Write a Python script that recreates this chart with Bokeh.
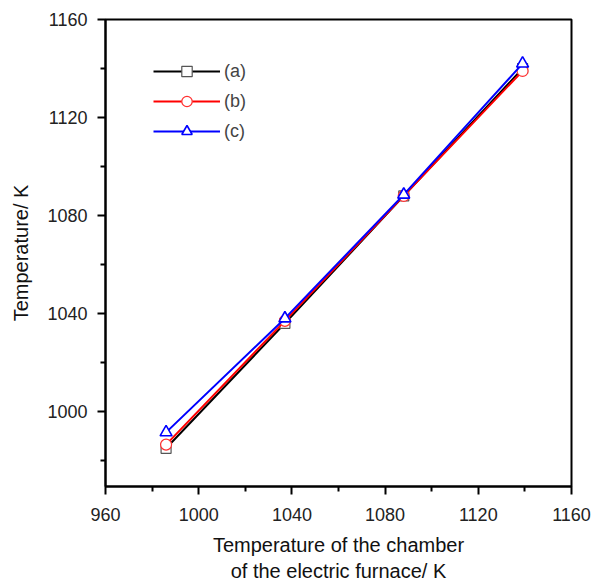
from bokeh.plotting import figure
from bokeh.models import Range1d, Legend, LegendItem, FixedTicker
from bokeh.embed import file_html
from bokeh.resources import INLINE

x_vals = [986, 1037, 1088, 1139]
series_a = [985, 1036, 1088, 1140]
series_b = [986.5, 1037, 1088, 1139]
series_c = [991.5, 1038, 1088.5, 1142]
labels = ["(a)", "(b)", "(c)"]
x_ticks = [960, 1000, 1040, 1080, 1120, 1160]
y_ticks = [1000, 1040, 1080, 1120, 1160]
minor = [980, 1020, 1060, 1100, 1140]

FONT = "Liberation Sans"

p = figure(width=592, height=585, output_backend="svg", toolbar_location=None,
           x_range=Range1d(960, 1160), y_range=Range1d(969.4, 1160),
           min_border_left=105, min_border_right=21, min_border_top=19, min_border_bottom=99)
p.grid.visible = False
p.outline_line_color = "black"
p.outline_line_width = 2

for ax in (p.xaxis[0], p.yaxis[0]):
    ax.axis_line_width = 2
    ax.major_tick_line_width = 2
    ax.minor_tick_line_width = 2
    ax.major_tick_out = 8
    ax.major_tick_in = 0
    ax.minor_tick_out = 5
    ax.minor_tick_in = 0
    ax.major_label_text_font = FONT
    ax.major_label_text_font_size = "18px"
    ax.major_label_text_color = "#222222"
    ax.axis_label_text_font = FONT
    ax.axis_label_text_font_size = "20px"
    ax.axis_label_text_font_style = "normal"
    ax.axis_label_text_color = "#111111"

p.xaxis.ticker = FixedTicker(ticks=x_ticks, minor_ticks=minor)
p.yaxis.ticker = FixedTicker(ticks=y_ticks, minor_ticks=minor)
p.xaxis.major_label_standoff = 13
p.yaxis.major_label_standoff = 10
p.xaxis.axis_label = "Temperature of the chamber\nof the electric furnace/ K"
p.xaxis.axis_label_standoff = 10
p.yaxis.axis_label = "Temperature/ K"
p.yaxis.axis_label_standoff = 12

la = p.line(x_vals, series_a, line_color="black", line_width=2)
sa = p.scatter(x_vals, series_a, marker="square", size=10, fill_color="white",
               line_color="#555555", line_width=1.2)
lb = p.line(x_vals, series_b, line_color="#ff0000", line_width=2)
sb = p.scatter(x_vals, series_b, marker="circle", size=11, fill_color="white",
               line_color="#ff3030", line_width=1.2)
lc = p.line(x_vals, series_c, line_color="#0000ff", line_width=2)
sc = p.scatter(x_vals, series_c, marker="triangle", size=12, fill_color="white",
               line_color="#0000ff", line_width=1.6)

legend = Legend(items=[LegendItem(label=labels[0], renderers=[la, sa]),
                       LegendItem(label=labels[1], renderers=[lb, sb]),
                       LegendItem(label=labels[2], renderers=[lc, sc])],
                location=(48, 342), glyph_width=67, glyph_height=26, spacing=4,
                label_text_font=FONT, label_text_font_size="18px",
                label_standoff=4, border_line_color=None, background_fill_alpha=0,
                padding=0, margin=0)
p.add_layout(legend, "center")

open("out.html", "w").write(file_html(p, INLINE))
